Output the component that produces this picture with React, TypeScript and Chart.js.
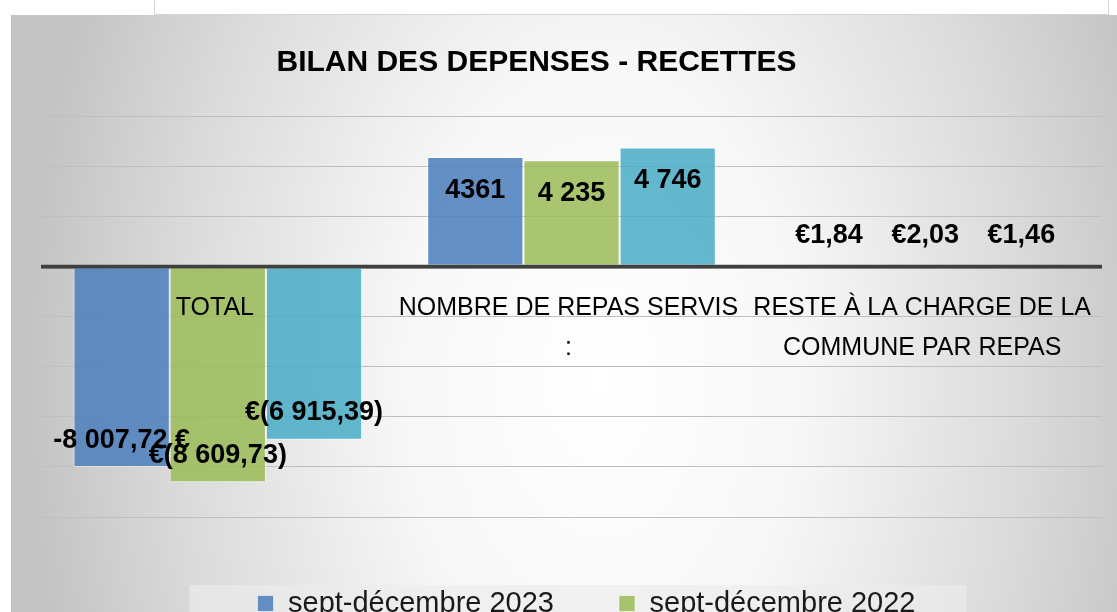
import { useEffect, useRef } from "react";
import { Chart, registerables } from "chart.js";

Chart.register(...registerables);

// ---- data ----
const categories: string[][] = [
  ["TOTAL"],
  ["NOMBRE DE REPAS SERVIS", ":"],
  ["RESTE À LA CHARGE DE LA", "COMMUNE PAR REPAS"],
];
const seriesNames = ["sept-décembre 2023", "sept-décembre 2022", "sept-décembre 2021"];
const values2023 = [-8007.72, 4361, 1.84];
const values2022 = [-8609.73, 4235, 2.03];
const values2021 = [-6915.39, 4746, 1.46];
const labels2023 = ["-8 007,72 €", "4361", "€1,84"];
const labels2022 = ["€(8 609,73)", "4 235", "€2,03"];
const labels2021 = ["€(6 915,39)", "4 746", "€1,46"];
const yMin = -10000;
const yMax = 6000;
const yStep = 2000;
const chartTitle = "BILAN DES DEPENSES - RECETTES";

const FONT = '"Liberation Sans", Arial, sans-serif';
const colors = ["rgba(79,129,189,0.88)", "rgba(155,187,89,0.86)", "rgba(75,172,198,0.86)"];
const valueLabels = [labels2023, labels2022, labels2021];

const decoPlugin = {
  id: "deco",
  beforeDraw(chart: any) {
    const { ctx, width, height } = chart;
    ctx.save();
    const cx = 590, cy = 360, rx = 570, ry = 900;
    ctx.translate(cx, cy);
    ctx.scale(1, ry / rx);
    const g = ctx.createRadialGradient(0, 0, 0, 0, 0, rx);
    g.addColorStop(0, "#FFFFFF");
    g.addColorStop(0.35, "#F7F7F7");
    g.addColorStop(0.75, "#DADADA");
    g.addColorStop(1, "#C4C4C4");
    ctx.fillStyle = g;
    ctx.fillRect(-cx, (-cy * rx) / ry, width, (height * rx) / ry);
    ctx.restore();

    const hb = chart.legend && chart.legend.legendHitBoxes;
    if (hb && hb.length) {
      const row0 = hb.filter((h: any) => h.row === 0);
      const left = Math.min(...row0.map((h: any) => h.left)) - 68;
      const right = Math.max(...row0.map((h: any) => h.left + h.width)) + 51;
      const top = row0[0].top - 4;
      ctx.save();
      ctx.fillStyle = "rgba(236,236,236,0.68)";
      ctx.fillRect(left, top, right - left, height - top);
      ctx.restore();
    }
  },
  afterDatasetsDraw(chart: any) {
    const { ctx, chartArea } = chart;
    const ys = chart.scales.y;
    const xs = chart.scales.x;
    const y0 = ys.getPixelForValue(0);
    ctx.save();
    // zero line on top of bars
    ctx.strokeStyle = "#404040";
    ctx.lineWidth = 3.5;
    ctx.beginPath();
    ctx.moveTo(chartArea.left, y0);
    ctx.lineTo(chartArea.right, y0);
    ctx.stroke();

    // category labels inside plot
    ctx.fillStyle = "#000";
    ctx.font = `25px ${FONT}`;
    ctx.textAlign = "center";
    ctx.textBaseline = "middle";
    categories.forEach((lines, i) => {
      const x = xs.getPixelForValue(i);
      lines.forEach((ln, k) => ctx.fillText(ln, x - 3, y0 + 42 + k * 40));
    });

    // value labels
    ctx.font = `bold 27px ${FONT}`;
    chart.data.datasets.forEach((ds: any, d: number) => {
      const meta = chart.getDatasetMeta(d);
      meta.data.forEach((bar: any, j: number) => {
        const v = ds.data[j];
        const h = Math.abs(bar.base - bar.y);
        let ly;
        if (h < 40) ly = bar.base - 29;
        else if (v > 0) ly = bar.y + 33;
        else ly = bar.y - 27;
        ctx.fillText(valueLabels[d][j], bar.x, ly);
      });
    });

    // title
    ctx.font = `bold 30px ${FONT}`;
    ctx.fillText(chartTitle, (chartArea.left + chartArea.right) / 2 - 35, 48);
    ctx.restore();
  },
};

export default function App() {
  const ref = useRef<HTMLCanvasElement | null>(null);
  useEffect(() => {
    if (!ref.current) return;
    const chart = new Chart(ref.current, {
      type: "bar",
      data: {
        labels: categories as any,
        datasets: [values2023, values2022, values2021].map((vals, i) => ({
          label: seriesNames[i],
          data: vals,
          backgroundColor: colors[i],
          borderColor: "rgba(255,255,255,0.55)",
          borderWidth: 1,
          categoryPercentage: 0.816,
          barPercentage: 1,
        })),
      },
      options: {
        responsive: false,
        animation: false,
        devicePixelRatio: 1,
        layout: { padding: { left: 30, right: 0, top: 101, bottom: 0 } },
        scales: {
          x: { type: "category", display: false, offset: true, grid: { display: false } },
          y: {
            type: "linear",
            position: "left",
            min: yMin,
            max: yMax,
            ticks: { display: false, stepSize: yStep },
            grid: {
              color: (c: any) => (c.tick && c.tick.value === 0 ? "#404040" : "#BFBFBF"),
              lineWidth: (c: any) => (c.tick && c.tick.value === 0 ? 3.5 : 1),
              drawTicks: false,
            },
            border: { display: false },
            afterFit: (s: any) => {
              s.width = 0;
            },
          },
          y2: {
            type: "linear",
            position: "right",
            display: true,
            ticks: { display: false },
            grid: { display: false, drawTicks: false },
            border: { display: false },
            afterFit: (s: any) => {
              s.width = 30;
            },
          },
        } as any,
        plugins: {
          title: { display: false },
          tooltip: { enabled: false },
          legend: {
            position: "bottom",
            align: "center",
            title: { display: true, text: " ", padding: 0, font: { size: 7, lineHeight: 1 } },
            labels: {
              font: { family: FONT, size: 29 },
              color: "#1a1a1a",
              boxWidth: 16,
              boxHeight: 16,
              padding: 65,
            },
          },
        },
      },
      plugins: [decoPlugin],
    });
    return () => chart.destroy();
  }, []);

  return (
    <div
      style={{
        position: "fixed",
        left: 0,
        top: 0,
        width: 1117,
        height: 612,
        overflow: "hidden",
        background: "#fff",
      }}
    >
      <div
        style={{
          position: "absolute",
          left: 154,
          top: -2,
          width: 953,
          height: 15,
          border: "1px solid #D4D4D4",
          background: "#fff",
        }}
      />
      <canvas
        ref={ref}
        width={1121}
        height={707}
        style={{ position: "absolute", left: 11, top: 15, width: 1121, height: 707, display: "block" }}
      />
    </div>
  );
}
